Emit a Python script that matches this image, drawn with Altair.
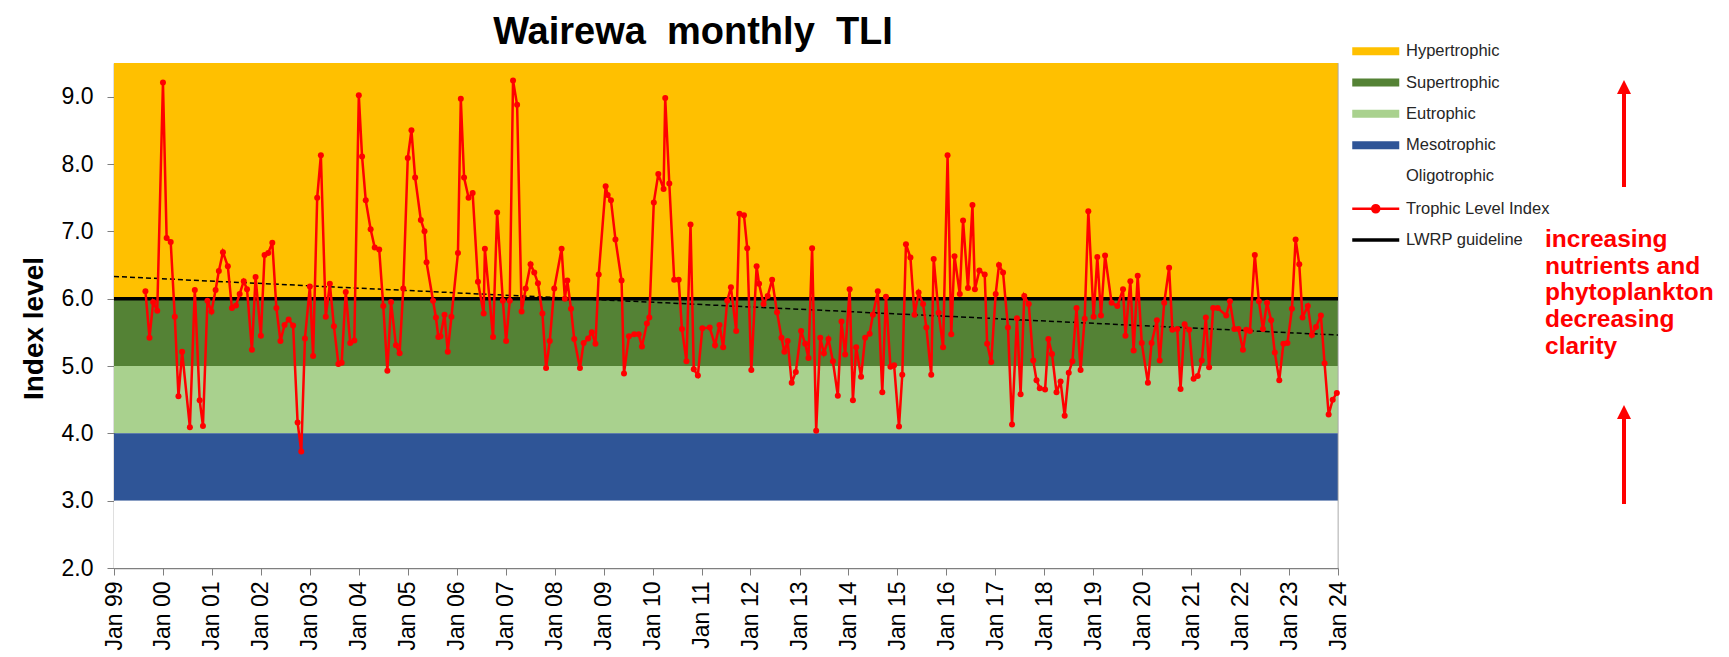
import altair as alt
import pandas as pd

FONT = "Liberation Sans, Arial, sans-serif"

# ---------------- data ----------------
# sample positions, in months since Jan 1999
tli_month = [
    7.7, 8.7, 9.6, 10.6, 12.0, 12.9, 13.9, 14.9, 15.8, 16.7, 18.6, 19.8, 21.0, 21.8, 22.9,
    23.9, 24.9, 25.7, 26.7, 27.9, 28.9, 29.9, 30.8, 31.8, 32.6, 33.8, 34.7, 36.0, 36.9, 37.8,
    38.8, 39.8, 40.8, 41.8, 42.8, 43.9, 45.0, 45.9, 46.8, 48.0, 48.8, 49.8, 50.7,
    51.9, 52.9, 53.9, 55.0, 55.8, 56.8, 57.9, 58.9, 60.0, 60.8, 61.7, 62.9, 63.9, 65.0, 66.0,
    67.0, 67.9, 69.1, 70.0, 70.9, 72.0, 72.9, 73.8, 75.2, 76.1, 76.6, 78.2, 78.9, 79.5, 80.0,
    81.0, 81.8, 82.7, 84.3, 85.0, 85.8, 86.9, 87.9, 89.2, 90.6, 90.9, 92.9, 93.9, 95.3, 96.1,
    97.0, 97.8, 98.8,
    99.9, 100.9, 102.1, 103.0, 103.9, 105.0, 105.9, 106.8, 107.9, 109.7, 110.5, 111.1, 112.0,
    112.8, 114.2, 115.1, 116.2, 117.1, 118.0, 118.8, 120.5, 121.0, 121.8, 122.9, 124.4, 125.0,
    126.2, 127.5, 128.6, 129.4, 130.6, 131.2, 132.3, 133.4, 134.7, 135.1, 136.1, 137.3, 138.4,
    139.2, 140.3, 141.3, 142.1, 143.1, 144.2, 146.0, 147.3, 148.4,
    149.3, 150.3, 151.2, 152.5, 153.3, 154.4, 155.2, 156.2, 157.5, 158.1, 159.2, 160.2, 161.3,
    162.5, 163.6, 164.3, 165.1, 166.1, 167.1, 168.4, 169.4, 170.2, 171.1, 172.1, 173.1, 174.0,
    175.1, 176.2, 177.4, 178.3, 179.2, 180.3, 181.1, 181.9, 183.1, 184.1, 185.2, 186.0, 187.2,
    188.3, 189.2, 190.3, 191.2, 192.4, 193.2, 194.1, 195.2, 196.2, 197.2,
    198.3, 199.1, 200.3, 200.9, 202.1, 203.2, 204.3, 205.2, 206.0, 207.3, 208.1, 209.3, 210.4,
    211.0, 212.1, 213.4, 214.0, 215.0, 216.1, 216.9, 217.9, 219.1, 220.1, 221.3, 222.2, 223.1,
    224.2, 225.3, 226.1, 226.9, 228.2, 229.0, 229.9, 231.0, 232.0, 233.0, 234.0, 234.9, 235.9,
    236.9, 237.9, 238.8, 240.1, 241.0, 241.9, 242.9, 244.5, 245.9,
    247.3, 247.9, 249.1, 249.9, 250.9, 251.9, 253.4, 254.3, 255.6, 256.3, 257.4, 258.6, 259.4,
    260.6, 261.4, 262.4, 263.5, 264.6, 265.6, 266.6, 267.6, 268.4, 269.4, 270.5, 272.6, 273.5,
    274.6, 275.6, 276.7, 277.5, 278.4, 279.6, 280.6, 281.6, 282.6, 283.6, 284.5, 285.6, 286.6,
    287.6, 288.7, 289.6, 290.5, 291.3, 292.6, 293.6, 294.6, 295.8, 296.7, 297.7, 298.7, 299.7,
]
tli_value = [
    6.11, 5.42, 5.95, 5.82, 9.21, 6.90, 6.84, 5.73, 4.55, 5.21, 4.09, 6.13, 4.49, 4.11, 5.97,
    5.81, 6.13, 6.41, 6.69, 6.48, 5.86, 5.90, 6.07, 6.26, 6.14, 5.24, 6.32, 5.45, 6.65, 6.68,
    6.83, 5.86, 5.37, 5.61, 5.69, 5.60, 4.16, 3.73, 5.41, 6.18, 5.15, 7.50, 8.13,
    5.73, 6.22, 5.59, 5.03, 5.05, 6.10, 5.34, 5.38, 9.02, 8.11, 7.46, 7.03, 6.76, 6.73, 5.89,
    4.93, 5.95, 5.31, 5.19, 6.15, 8.09, 8.50, 7.80, 7.17, 7.00, 6.54, 5.97, 5.72, 5.43, 5.44,
    5.76, 5.21, 5.73, 6.68, 8.97, 7.80, 7.50, 7.57, 6.25, 5.78, 6.74, 5.43, 7.28, 5.97, 5.37,
    5.97, 9.24, 8.88,
    5.81, 6.15, 6.51, 6.39, 6.23, 5.78, 4.97, 5.37, 6.15, 6.74, 6.00, 6.27, 5.85,
    5.40, 4.97, 5.34, 5.41, 5.50, 5.33, 6.36, 7.67, 7.54, 7.46, 6.88, 6.27, 4.89,
    5.44, 5.47, 5.47, 5.29, 5.63, 5.72, 7.43, 7.85, 7.63, 8.98, 7.71, 6.28, 6.28,
    5.55, 5.07, 7.10, 4.95, 4.86, 5.56, 5.57, 5.31, 5.61,
    5.28, 5.97, 6.17, 5.52, 7.26, 7.24, 6.75, 4.94, 6.48, 6.22, 5.92, 6.04, 6.28,
    5.80, 5.42, 5.21, 5.37, 4.75, 4.91, 5.52, 5.33, 5.12, 6.75, 4.04, 5.42, 5.19,
    5.40, 5.07, 4.56, 5.66, 5.17, 6.14, 4.49, 5.28, 4.84, 5.42, 5.48, 5.76, 6.11,
    4.61, 6.03, 4.99, 5.01, 4.10, 4.87, 6.81, 6.61, 5.76, 6.09,
    5.92, 5.57, 4.87, 6.59, 5.79, 5.28, 8.13, 5.47, 6.63, 6.07, 7.16, 6.16, 7.39,
    6.14, 6.42, 6.36, 5.33, 5.06, 6.07, 6.50, 6.39, 5.57, 4.13, 5.71, 4.58, 6.04,
    5.92, 5.08, 4.79, 4.67, 4.65, 5.40, 5.18, 4.61, 4.77, 4.26, 4.90, 5.07, 5.86,
    4.94, 5.70, 7.30, 5.73, 6.62, 5.75, 6.64, 5.94, 5.89,
    6.14, 5.45, 6.26, 5.23, 6.34, 5.34, 4.75, 5.34, 5.68, 5.08, 5.94, 6.46, 5.54,
    5.55, 4.66, 5.62, 5.54, 4.81, 4.85, 5.08, 5.72, 4.98, 5.86, 5.86, 5.75, 5.96,
    5.55, 5.55, 5.24, 5.54, 5.52, 6.65, 5.96, 5.55, 5.94, 5.68, 5.20, 4.79, 5.33,
    5.34, 5.85, 6.88, 6.51, 5.72, 5.89, 5.46, 5.58, 5.75, 5.04, 4.28, 4.50, 4.60,
]

band_names = ["Hypertrophic", "Supertrophic", "Eutrophic", "Mesotrophic", "Oligotrophic"]
band_low = [6.0, 5.0, 4.0, 3.0, 2.0]
band_high = [9.5, 6.0, 5.0, 4.0, 3.0]
band_colors = ["#FFC000", "#548235", "#A9D18E", "#2F5597", "#FFFFFF"]

series_names = ["Trophic Level Index", "LWRP guideline"]
series_colors = ["#FF0000", "#000000"]

guideline_value = [6.0]
trend_month = [0, 300]
trend_value = [6.33, 5.46]

y_ticks = [2, 3, 4, 5, 6, 7, 8, 9]
x_years = list(range(1999, 2025))

title_text = "Wairewa\u00a0 monthly\u00a0 TLI"
annotation_lines = ["increasing", "nutrients and", "phytoplankton", "decreasing", "clarity"]

# ---------------- build tables ----------------
START_MS = int(pd.Timestamp("1999-01-01").value // 10**6)
END_MS = int(pd.Timestamp("2024-01-01").value // 10**6)
MONTH_MS = 30.4375 * 86400000


def to_ms(m):
    return START_MS + m * MONTH_MS


tli_df = pd.DataFrame({"date": [to_ms(m) for m in tli_month], "tli": tli_value})
trend_df = pd.DataFrame({"date": [to_ms(m) for m in trend_month], "tli": trend_value})
band_df = pd.DataFrame({"name": band_names, "low": band_low, "high": band_high})
guide_df = pd.DataFrame({"tli": guideline_value})
edge_df = pd.DataFrame({"date": [END_MS]})
year_ticks = [int(pd.Timestamp(f"{y}-01-01").value // 10**6) for y in x_years]

legend_names = band_names + series_names
legend_colors = band_colors + series_colors

x_scale = alt.Scale(type="utc", domain=[START_MS, END_MS], nice=False)
y_scale = alt.Scale(domain=[2, 9.5], nice=False, zero=False)

x_axis = alt.Axis(
    values=year_ticks, labelExpr="utcFormat(datum.value, '%b %y')", labelAngle=270,
    title=None, grid=False, labelFont=FONT, labelFontSize=23, labelColor="#000000",
    labelPadding=6, tickSize=7, tickColor="#7f7f7f", domainColor="#7f7f7f",
    domainWidth=1.5, labelOverlap=False, labelBound=False, labelFlush=False,
)
y_axis = alt.Axis(
    values=y_ticks, format=".1f", title="Index level", grid=False,
    labelFont=FONT, labelFontSize=23, labelColor="#000000", labelPadding=14,
    tickSize=7, tickColor="#7f7f7f", domainColor="#7f7f7f", domainWidth=1.5,
    titleFont=FONT, titleFontSize=28, titleFontWeight="bold", titleColor="#000000",
    titleX=-72, titleY=265, titleBaseline="alphabetic",
)


def X(field="date"):
    return alt.X(f"{field}:T", scale=x_scale, axis=x_axis)


def Y(field="tli"):
    return alt.Y(f"{field}:Q", scale=y_scale, axis=y_axis)


TLI_SHAPE = "M-1,0L1,0M-0.15,0A0.15,0.15,0,1,1,0.15,0A0.15,0.15,0,1,1,-0.15,0"
LINE_SHAPE = "M-1,0L1,0"
BAND_SHAPE = "M-1,-0.17L1,-0.17L1,0.17L-1,0.17Z"

legend = alt.Legend(
    title=None, orient="none", legendX=1253.5, legendY=-20, padding=0,
    symbolType=alt.ExprRef(
        f"datum.value == 'Trophic Level Index' ? '{TLI_SHAPE}' : "
        f"datum.value == 'LWRP guideline' ? '{LINE_SHAPE}' : '{BAND_SHAPE}'"),
    symbolStrokeWidth=alt.ExprRef(
        "datum.value == 'LWRP guideline' ? 3.5 : "
        "datum.value == 'Trophic Level Index' ? 2.5 : 0"),
    symbolStrokeColor=alt.ExprRef(
        "datum.value == 'LWRP guideline' ? '#000000' : '#FF0000'"),
    symbolSize=2209, symbolOpacity=1,
    labelFont=FONT, labelFontSize=16.5, labelColor="#262626", labelOffset=22,
    rowPadding=14.3,
)

bands = alt.Chart(band_df).mark_rect(opacity=1).encode(
    y=Y("low"),
    y2="high:Q",
    fill=alt.Fill("name:N", scale=alt.Scale(domain=legend_names, range=legend_colors),
                  legend=legend),
)

edge = alt.Chart(edge_df).mark_rule(color="#A5A5A5", strokeWidth=1, opacity=0.7).encode(x=X())

trend = alt.Chart(trend_df).mark_line(
    color="#000000", strokeWidth=1.5, strokeDash=[5, 3]
).encode(x=X(), y=Y())

guideline = alt.Chart(guide_df).mark_rule(color="#000000", strokeWidth=3.5).encode(y=Y())

tli_line = alt.Chart(tli_df).mark_line(
    color="#FF0000", strokeWidth=2.5,
    point=alt.OverlayMarkDef(filled=True, color="#FF0000", size=36, opacity=1),
).encode(x=X(), y=Y())

one = alt.Data(values=[{}])
annot_text = alt.Chart(one).mark_text(
    align="left", baseline="alphabetic", font=FONT, fontSize=24.5, fontWeight="bold",
    color="#FF0000", lineHeight=26.7,
).encode(x=alt.value(1431), y=alt.value(184), text=alt.value(annotation_lines))

ARROW_HEAD = "M0,-1L1,1L-1,1Z"
arrow_up_shaft = alt.Chart(one).mark_rule(color="#FF0000", strokeWidth=4).encode(
    x=alt.value(1510), y=alt.value(26), y2=alt.value(124))
arrow_up_head = alt.Chart(one).mark_point(
    shape=ARROW_HEAD, filled=True, color="#FF0000", size=196, opacity=1
).encode(x=alt.value(1510), y=alt.value(24))
arrow_dn_shaft = alt.Chart(one).mark_rule(color="#FF0000", strokeWidth=4).encode(
    x=alt.value(1510), y=alt.value(351), y2=alt.value(441))
arrow_dn_head = alt.Chart(one).mark_point(
    shape=ARROW_HEAD, filled=True, color="#FF0000", size=196, opacity=1
).encode(x=alt.value(1510), y=alt.value(349))

chart = alt.layer(
    bands, edge, trend, guideline, tli_line,
    annot_text, arrow_up_shaft, arrow_up_head, arrow_dn_shaft, arrow_dn_head,
).properties(
    width=1224, height=505,
    title=alt.TitleParams(title_text, font=FONT, fontSize=38, fontWeight="bold",
                          color="#000000", anchor="middle", frame="group", dx=-33,
                          dy=39, offset=0, baseline="alphabetic"),
    autosize=alt.AutoSizeParams(type="none"),
    padding={"left": 106, "top": 55, "right": 383, "bottom": 84},
).configure_view(stroke=None).configure(font=FONT)

chart.save("out.html", embed_options={"renderer": "svg", "actions": False})
